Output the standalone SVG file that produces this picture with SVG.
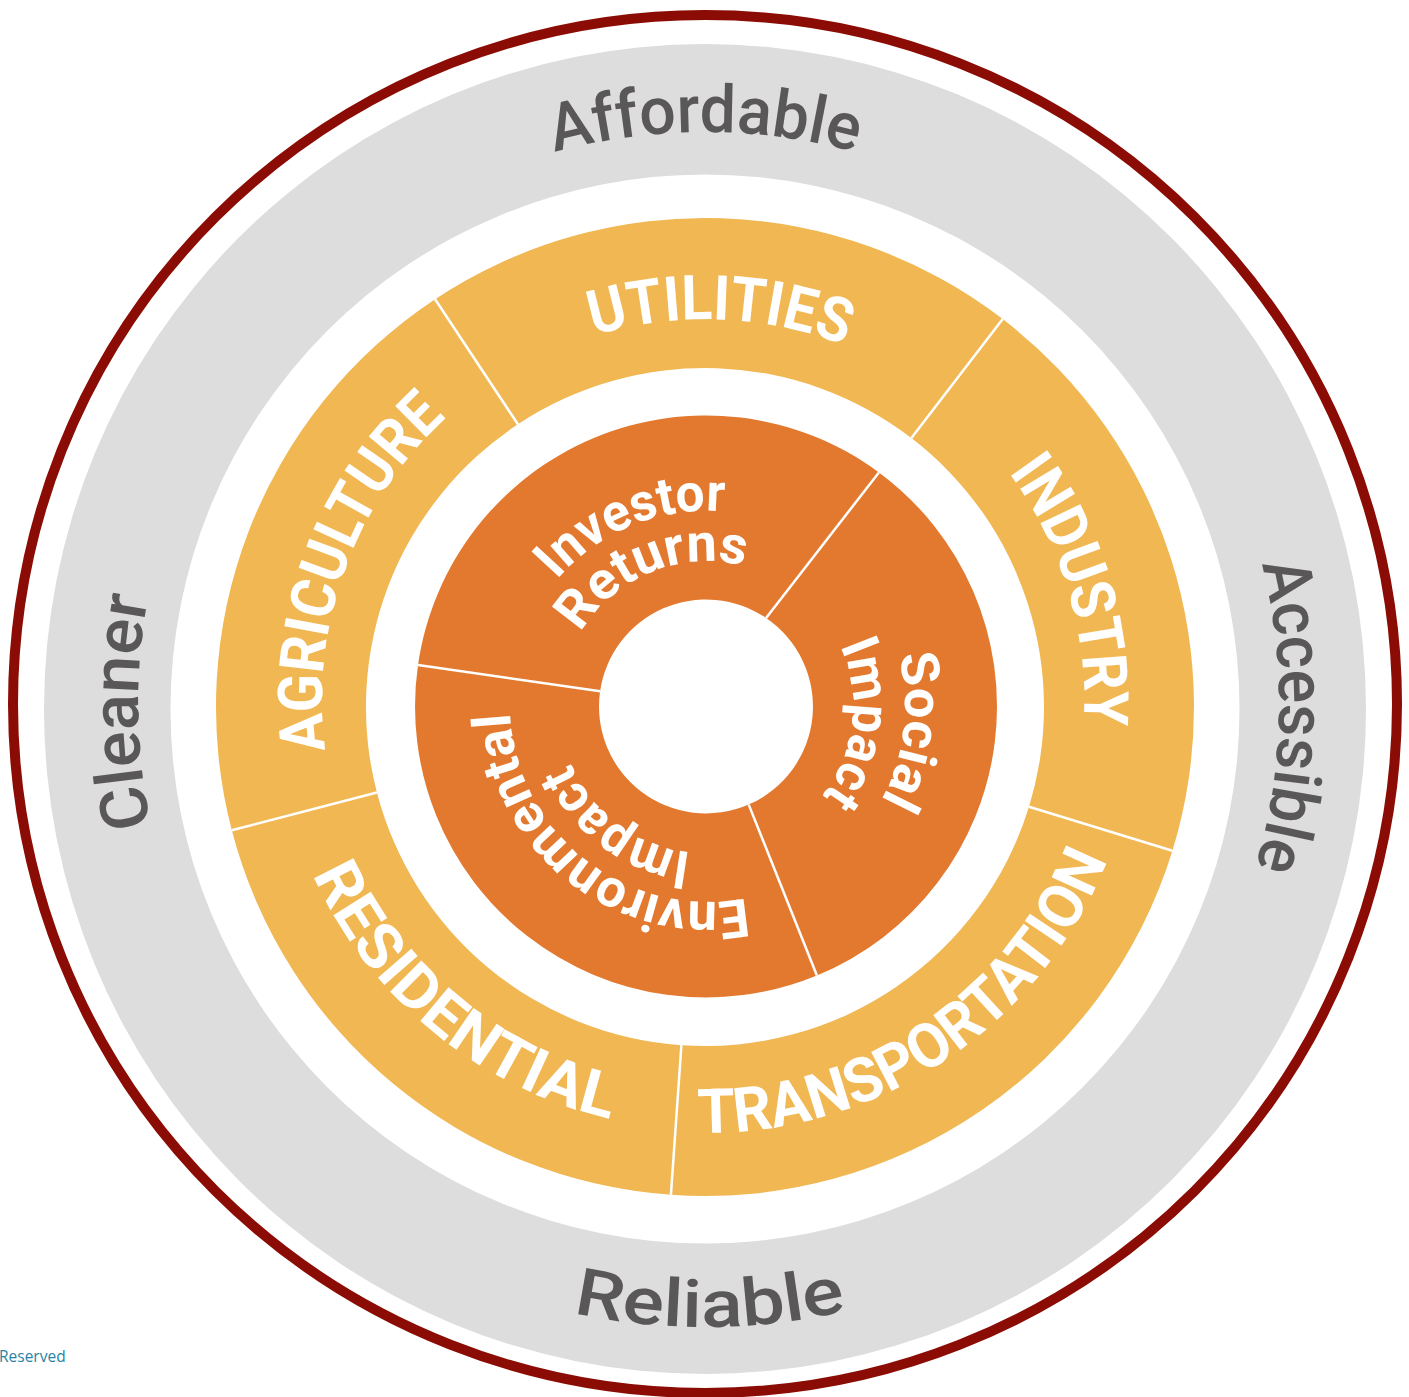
<svg xmlns="http://www.w3.org/2000/svg" width="1409" height="1397" viewBox="0 0 1409 1397">
<style>
.gray{fill:#dcdddc}
.sy{fill:#f1b752}
.so{fill:#e3792e}
.dv{stroke:#fff;stroke-width:2.5;fill:none}
.tg{font-family:Roboto,"Liberation Sans",sans-serif;font-weight:500;font-size:66px;fill:#595758;text-anchor:middle}
.ty{font-family:Roboto,"Liberation Sans",sans-serif;font-weight:700;font-size:62px;fill:#fff;text-anchor:middle}
.to{font-family:Roboto,"Liberation Sans",sans-serif;font-weight:700;font-size:53px;fill:#fff;text-anchor:middle}
</style>
<defs>
<path id="pAff" d="M133,704 A572,572 0 0 1 1277,704"/>
<path id="pAcc" d="M717,130.1 A574,574 0 0 1 693,1277.9"/>
<path id="pCle" d="M713,1277.9 A574,574 0 0 1 697,130.1"/>
<path id="pRel" d="M82,708.9 A623,623 0 0 0 1328,699.1"/>
<path id="pUti" d="M322.3,685 A383,383 0 0 1 1087.7,715"/>
<path id="pInd" d="M596.2,332.8 A383,383 0 0 1 813.8,1067.2"/>
<path id="pTra" d="M344.7,940.2 A433,433 0 0 0 1065.3,459.8"/>
<path id="pRes" d="M370.4,425.2 A433,433 0 0 0 1039.6,974.8"/>
<path id="pAgr" d="M574,1059.9 A383,383 0 0 1 836,340.1"/>
<path id="pInv" d="M523.6,780.4 A197,197 0 0 1 888.4,631.6"/>
<path id="pRet" d="M569.9,761.5 A147,147 0 0 1 842.1,650.5"/>
<path id="pSoc" d="M729.6,508.4 A199,199 0 0 1 682.4,903.6"/>
<path id="pImp1" d="M723.4,560 A147,147 0 0 1 688.6,852"/>
<path id="pEnv" d="M862,827.9 A198,198 0 0 1 550,584.1"/>
<path id="pImp2" d="M824.2,793.4 A147,147 0 0 1 587.8,618.6"/>
</defs>
<rect width="1409" height="1397" fill="#fff"/>

<g id="outer-ring">
<ellipse cx="705" cy="704" rx="692" ry="689" fill="none" stroke="#8b0c04" stroke-width="10"/>
</g>

<g id="values-ring">
<path class="gray" fill-rule="evenodd" d="M44,709 A661,665 0 1 0 1366,709 A661,665 0 1 0 44,709 Z M170.5,709 A534.5,534.5 0 1 0 1239.5,709 A534.5,534.5 0 1 0 170.5,709 Z"/>
</g>
<g id="value-affordable"><text class="tg"><textPath href="#pAff" startOffset="50%" textLength="305" lengthAdjust="spacingAndGlyphs">Affordable</textPath></text></g>
<g id="value-accessible"><text class="tg"><textPath href="#pAcc" startOffset="50%" textLength="307" lengthAdjust="spacingAndGlyphs">Accessible</textPath></text></g>
<g id="value-reliable"><text class="tg"><textPath href="#pRel" startOffset="50%" textLength="276" lengthAdjust="spacingAndGlyphs">Reliable</textPath></text></g>
<g id="value-cleaner"><text class="tg"><textPath href="#pCle" startOffset="50%" textLength="230" lengthAdjust="spacingAndGlyphs">Cleaner</textPath></text></g>

<g id="sector-utilities">
<path class="sy" d="M435.1,299.2 A489,489 0 0 1 1002.7,319.1 L911.4,438.1 A339,339 0 0 0 517.9,424.3 Z"/>
<text class="ty"><textPath href="#pUti" startOffset="50%" textLength="256" lengthAdjust="spacingAndGlyphs">UTILITIES</textPath></text>
</g>
<g id="sector-industry">
<path class="sy" d="M1002.7,319.1 A489,489 0 0 1 1172.4,850.8 L1029,806.7 A339,339 0 0 0 911.4,438.1 Z"/>
<text class="ty"><textPath href="#pInd" startOffset="50%" textLength="269" lengthAdjust="spacingAndGlyphs">INDUSTRY</textPath></text>
</g>
<g id="sector-transportation">
<path class="sy" d="M1172.4,850.8 A489,489 0 0 1 670.9,1194.8 L681.4,1045.2 A339,339 0 0 0 1029,806.7 Z"/>
<text class="ty"><textPath href="#pTra" startOffset="50%" textLength="523" lengthAdjust="spacingAndGlyphs">TRANSPORTATION</textPath></text>
</g>
<g id="sector-residential">
<path class="sy" d="M670.9,1194.8 A489,489 0 0 1 231.8,830.3 L376.9,792.5 A339,339 0 0 0 681.4,1045.2 Z"/>
<text class="ty"><textPath href="#pRes" startOffset="50%" textLength="399" lengthAdjust="spacingAndGlyphs">RESIDENTIAL</textPath></text>
</g>
<g id="sector-agriculture">
<path class="sy" d="M231.8,830.3 A489,489 0 0 1 435.1,299.2 L517.9,424.3 A339,339 0 0 0 376.9,792.5 Z"/>
<text class="ty"><textPath href="#pAgr" startOffset="50%" textLength="368" lengthAdjust="spacingAndGlyphs">AGRICULTURE</textPath></text>
</g>

<g id="core-investor-returns">
<path class="so" d="M418,665 A291,291 0 0 1 878.9,472.4 L766.1,618 A107,107 0 0 0 600.1,691.2 Z"/>
<text class="to"><textPath href="#pInv" startOffset="50%" textLength="188" lengthAdjust="spacingAndGlyphs">Investor</textPath></text>
<text class="to"><textPath href="#pRet" startOffset="50%" textLength="190" lengthAdjust="spacingAndGlyphs">Returns</textPath></text>
</g>
<g id="core-social-impact">
<path class="so" d="M878.9,472.4 A291,291 0 0 1 816.9,975.5 L748.7,804.6 A107,107 0 0 0 766.1,618 Z"/>
<text class="to"><textPath href="#pSoc" startOffset="50%" textLength="150" lengthAdjust="spacingAndGlyphs">Social</textPath></text>
<text class="to"><textPath href="#pImp1" startOffset="50%" textLength="159" lengthAdjust="spacingAndGlyphs">Impact</textPath></text>
</g>
<g id="core-environmental-impact">
<path class="so" d="M816.9,975.5 A291,291 0 0 1 418,665 L600.1,691.2 A107,107 0 0 0 748.7,804.6 Z"/>
<text class="to"><textPath href="#pEnv" startOffset="50%" textLength="341" lengthAdjust="spacingAndGlyphs">Environmental</textPath></text>
<text class="to"><textPath href="#pImp2" startOffset="50%" textLength="157" lengthAdjust="spacingAndGlyphs">Impact</textPath></text>
</g>

<g id="connectors">
<line class="dv" x1="911.4" y1="438.1" x2="1002.7" y2="319.1"/>
<line class="dv" x1="1029" y1="806.7" x2="1172.4" y2="850.8"/>
<line class="dv" x1="681.4" y1="1045.2" x2="670.9" y2="1194.8"/>
<line class="dv" x1="376.9" y1="792.5" x2="231.8" y2="830.3"/>
<line class="dv" x1="517.9" y1="424.3" x2="435.1" y2="299.2"/>
<line class="dv" x1="766.1" y1="618" x2="878.9" y2="472.4"/>
<line class="dv" x1="600.1" y1="691.2" x2="418" y2="665"/>
<line class="dv" x1="748.7" y1="804.6" x2="816.9" y2="975.5"/>
</g>

<g id="footer">
<text x="-1" y="1362" font-family="'Open Sans','Liberation Sans',sans-serif" font-size="15.5" fill="#2a83a2">Reserved</text>
</g>
</svg>
